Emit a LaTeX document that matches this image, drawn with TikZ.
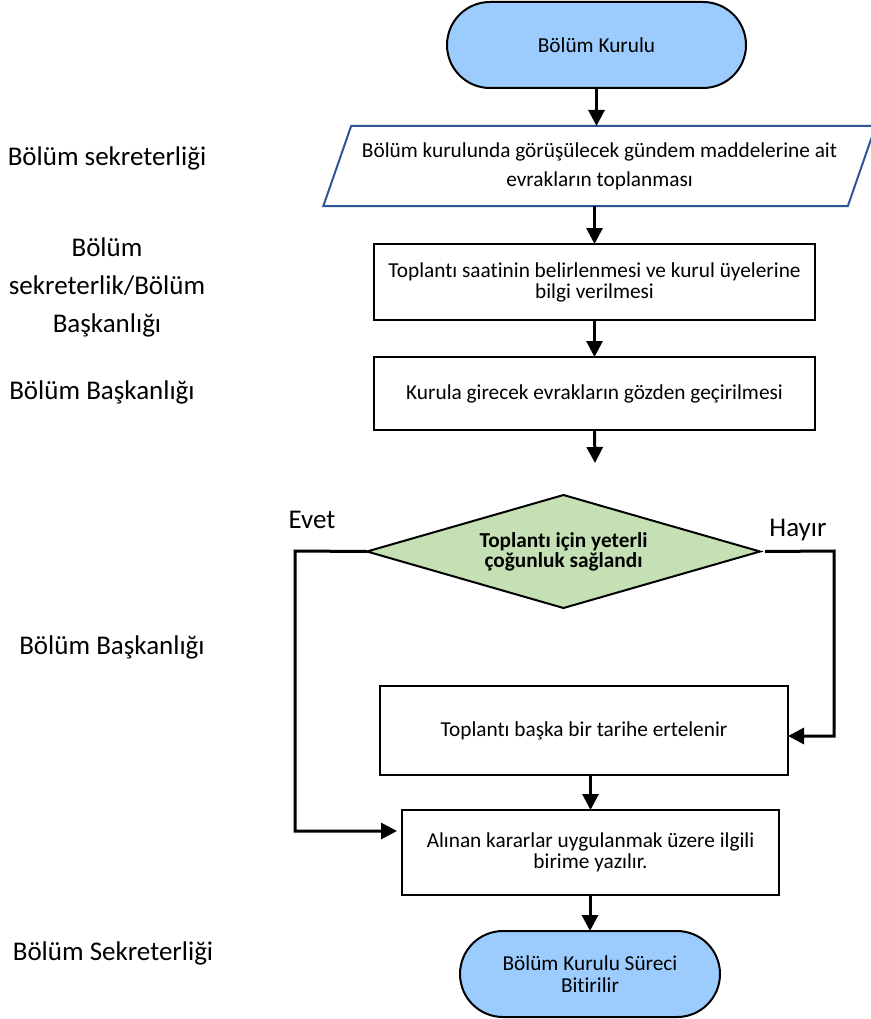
\documentclass[tikz,border=0pt]{standalone}
\usepackage{fontspec}
\setmainfont{Carlito}[Ligatures={NoCommon}]
\usetikzlibrary{shapes.geometric,arrows.meta}
\definecolor{termblue}{HTML}{9CCBFD}
\definecolor{decgreen}{HTML}{C5E0B4}
\definecolor{parblue}{HTML}{2F5597}
\tikzset{
  every node/.style={inner sep=0pt, outer sep=0pt},
  terminal/.style={draw=black, line width=2pt, fill=termblue, rounded corners=43pt, align=center, font=\fontsize{21.3}{22}\selectfont},
  procbox/.style={draw=black, line width=2pt, fill=white, align=center, font=\fontsize{21.3}{21}\selectfont},
  parbox/.style={draw=parblue, line width=2pt, fill=white, trapezium, trapezium left angle=60.6, trapezium right angle=119.4, trapezium stretches=true, align=center, font=\fontsize{21.3}{29}\selectfont},
  decision/.style={draw=black, line width=2pt, fill=decgreen, diamond, aspect=3.48, align=center, font=\fontsize{21.3}{20}\selectfont\bfseries},
  lanelabel/.style={align=center, font=\fontsize{27}{38}\selectfont},
  flowarrow/.style={line width=3pt, -{Triangle[width=16pt,length=16pt]}},
  branchlabel/.style={font=\fontsize{27}{28}\selectfont}
}
\begin{document}
\begin{tikzpicture}[x=1pt,y=-1pt]
\useasboundingbox (0,0) rectangle (870,1019);
% lane labels
\node[lanelabel] (l1) at (107,158) {Bölüm sekreterliği};
\node[lanelabel] (l2) at (107,287) {Bölüm\\sekreterlik/Bölüm\\Başkanlığı};
\node[lanelabel] (l3) at (102,392) {Bölüm Başkanlığı};
\node[lanelabel] (l4) at (112,647) {Bölüm Başkanlığı};
\node[lanelabel] (l5) at (113,953) {Bölüm Sekreterliği};
% flow nodes
\node[terminal, minimum width=299pt, minimum height=86pt] (start) at (596.5,45) {Bölüm Kurulu};
\node[parbox, minimum width=557pt, minimum height=80pt] (par) at (599.5,166) {Bölüm kurulunda görüşülecek gündem maddelerine ait\\evrakların toplanması};
\node[procbox, minimum width=441pt, minimum height=76pt] (b2) at (594.5,282) {Toplantı saatinin belirlenmesi ve kurul üyelerine\\bilgi verilmesi};
\node[procbox, minimum width=441pt, minimum height=73pt] (b3) at (594.5,393.5) {Kurula girecek evrakların gözden geçirilmesi};
\coordinate (dangle) at (595,463);
\node[decision, minimum width=393pt, minimum height=113pt] (dec) at (563.5,551.5) {Toplantı için yeterli\\çoğunluk sağlandı};
\node[procbox, minimum width=408pt, minimum height=89pt] (b4) at (584,730.5) {Toplantı başka bir tarihe ertelenir};
\node[procbox, minimum width=377pt, minimum height=85pt] (b5) at (590.5,852.5) {Alınan kararlar uygulanmak üzere ilgili\\birime yazılır.};
\node[terminal, minimum width=260pt, minimum height=86pt] (end) at (590,974) {Bölüm Kurulu Süreci\\Bitirilir};
\node[branchlabel] (evet) at (312,520) {Evet};
\node[branchlabel] (hayir) at (798,530) {Hayır};
\coordinate (ev1) at (295,551);
\coordinate (ev2) at (295,831);
\coordinate (hy1) at (834,551);
\coordinate (hy2) at (834,736);
% connectors
\draw[flowarrow] (start.south) -- (start.south |- par.north);
\draw[flowarrow] (par.south -| b2.north) -- (b2.north);
\draw[flowarrow] (b2.south) -- (b3.north);
\draw[flowarrow] (b3.south) -- (dangle);
\draw[flowarrow] (dec.west) -- (ev1) -- (ev2) -- ([xshift=-5pt]b5.west |- ev2);
\draw[flowarrow] ([xshift=5pt]dec.east) -- (hy1) -- (hy2) -- (b4.east |- hy2);
\draw[flowarrow] (b4.south -| b5.north) -- (b5.north);
\draw[flowarrow] (b5.south -| end.north) -- (end.north);
\end{tikzpicture}
\end{document}
